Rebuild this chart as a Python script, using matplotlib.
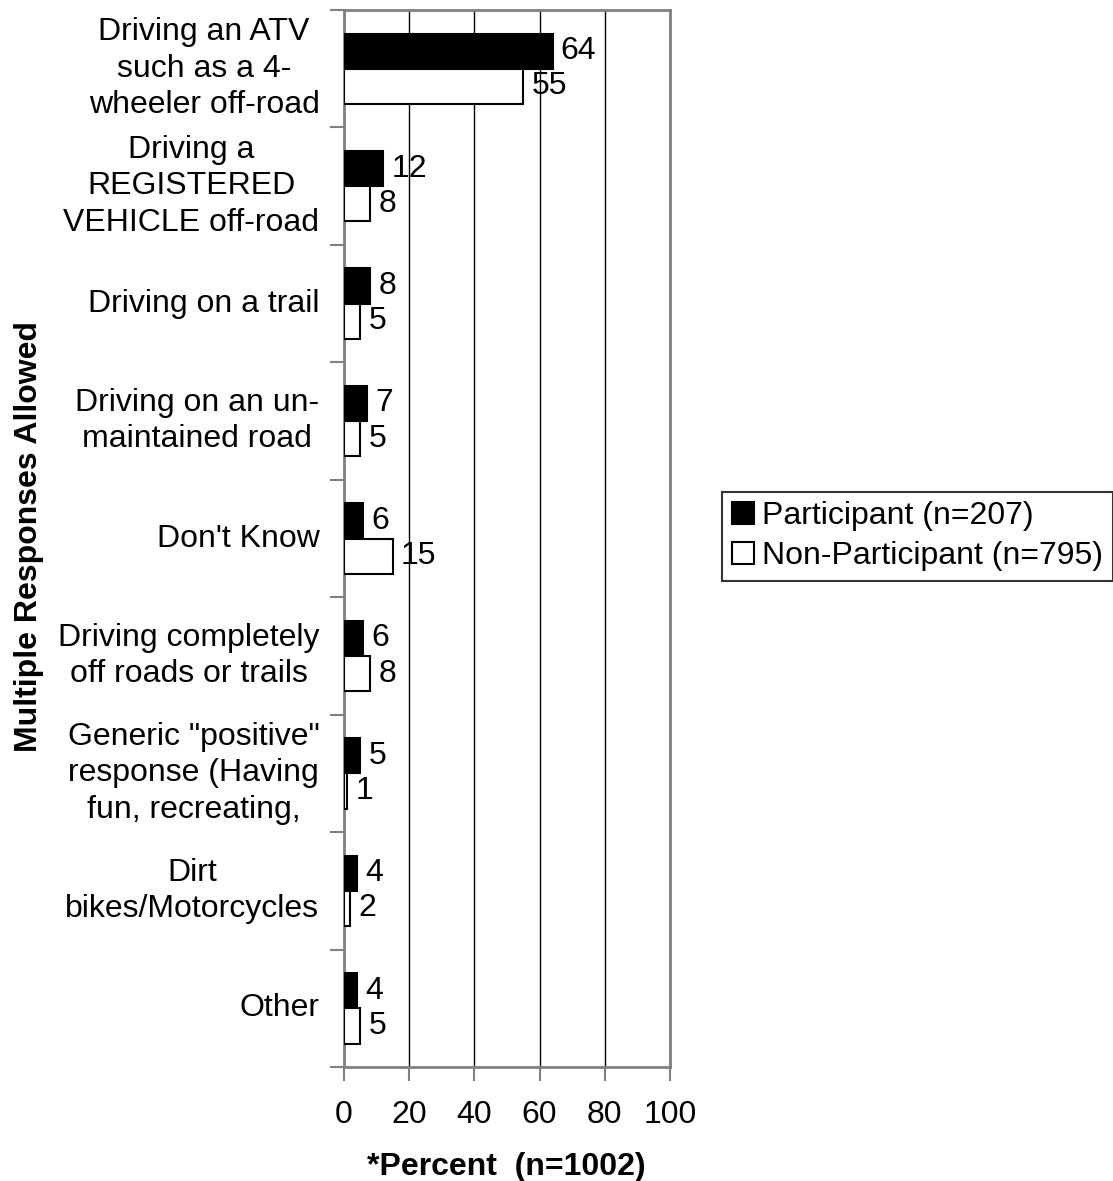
import numpy as np
import matplotlib.pyplot as plt

plt.rcParams['font.family'] = ['Liberation Sans', 'DejaVu Sans']

# data
categories = [
    'Driving an ATV\nsuch as a 4-\nwheeler off-road',
    'Driving a\nREGISTERED\nVEHICLE off-road',
    'Driving on a trail',
    'Driving on an un-\nmaintained road',
    "Don't Know",
    'Driving completely\noff roads or trails',
    'Generic "positive"\nresponse (Having\nfun, recreating,',
    'Dirt\nbikes/Motorcycles',
    'Other',
]
participant = [64, 12, 8, 7, 6, 6, 5, 4, 4]
non_participant = [55, 8, 5, 5, 15, 8, 1, 2, 5]
x_ticks = [0, 20, 40, 60, 80, 100]

fig = plt.figure(figsize=(11.13, 11.81), dpi=100)
ax = fig.add_axes([0.309, 0.0965, 0.293, 0.895])

y = np.arange(len(categories))
h = 0.3
b1 = ax.barh(y - h / 2, participant, height=h, color='black', edgecolor='black',
             linewidth=1.5, label='Participant (n=207)', zorder=3)
b2 = ax.barh(y + h / 2, non_participant, height=h, color='white', edgecolor='black',
             linewidth=1.5, label='Non-Participant (n=795)', zorder=3)

for bars, vals in [(b1, participant), (b2, non_participant)]:
    for bar, v in zip(bars, vals):
        ax.text(v + 2.5, bar.get_y() + bar.get_height() / 2, str(v),
                va='center', ha='left', fontsize=23)

ax.set_ylim(len(categories) - 0.5, -0.5)
ax.set_xlim(0, 100)
ax.set_xticks(x_ticks)
ax.set_xticklabels([str(t) for t in x_ticks], fontsize=23)
ax.xaxis.grid(True, color='black', linewidth=1, zorder=0)
ax.tick_params(axis='x', length=10, width=1.5, color='#808080', pad=14)

# category labels centered in each band, ticks at band boundaries
ax.set_yticks(np.arange(len(categories) + 1) - 0.5)
ax.set_yticklabels([])
ax.tick_params(axis='y', length=10, width=1.5, color='#808080')
for i, c in enumerate(categories):
    ax.text(-7.5, i, c, ha='right', va='center', multialignment='center',
            fontsize=23, linespacing=1.28)

for s in ax.spines.values():
    s.set_color('#808080')
    s.set_linewidth(2)

fig.text(0.455, 1 - 1167 / 1181, '*Percent  (n=1002)', ha='center', va='center',
         fontsize=23, fontweight='bold')
fig.text(0.026, 0.546, 'Multiple Responses Allowed', rotation=90, ha='center',
         va='center', fontsize=23, fontweight='bold')

leg = fig.legend(handles=[b1, b2], loc='center left', bbox_to_anchor=(0.649, 0.546),
                 fontsize=23, frameon=True, fancybox=False, borderpad=0.3,
                 handlelength=0.7, handleheight=0.7, handletextpad=0.25, labelspacing=0.3,
                 borderaxespad=0)
leg.get_frame().set_edgecolor('black')
leg.get_frame().set_linewidth(1.5)

fig.savefig('out.png', dpi=100)
